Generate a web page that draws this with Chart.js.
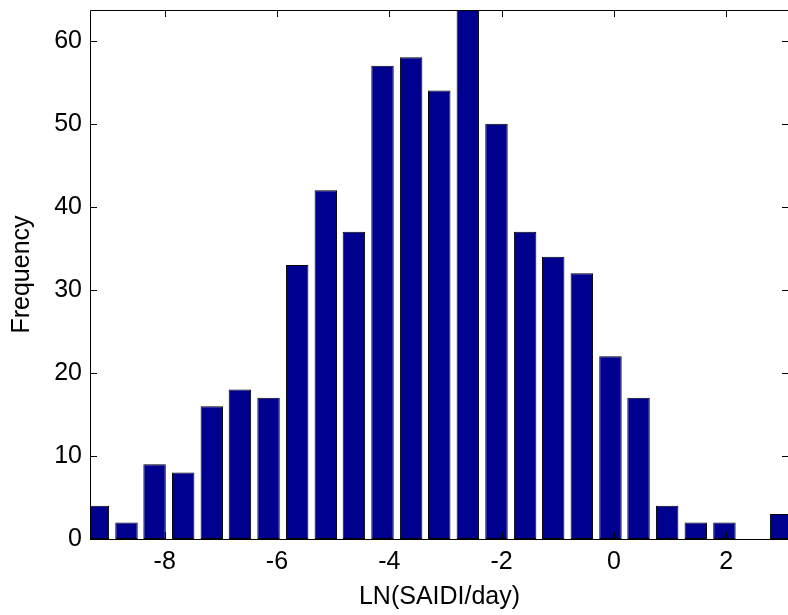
<!DOCTYPE html>
<html>
<head>
<meta charset="utf-8">
<script src="https://cdn.jsdelivr.net/npm/chart.js@4/dist/chart.umd.min.js"></script>
<style>
  html, body { margin: 0; padding: 0; background: #fff; overflow: hidden; }
  #wrap { width: 790px; height: 615px; }
</style>
</head>
<body>
<div id="wrap"><canvas id="histChart" width="790" height="615"></canvas></div>
<script>
// histogram bins (centres) and counts
var binCenters = [-9.19, -8.68, -8.18, -7.67, -7.16, -6.66, -6.15, -5.64, -5.13, -4.63,
                  -4.12, -3.61, -3.11, -2.60, -2.09, -1.58, -1.08, -0.57, -0.06, 0.44,
                  0.95, 1.46, 1.97, 2.47, 2.98];
var frequency = [4, 2, 9, 8, 16, 18, 17, 33, 42, 37,
                 57, 58, 54, 64, 50, 37, 34, 32, 22, 17,
                 4, 2, 2, 0, 3];
var xTicks = [-8, -6, -4, -2, 0, 2];
var yTicks = [0, 10, 20, 30, 40, 50, 60];

var fontFamily = '"Liberation Sans", Arial, Helvetica, sans-serif';

// matlab style box with inward ticks on all four sides
var axesBox = {
    id: 'axesBox',
    afterDatasetsDraw: function (chart) {
        var ctx = chart.ctx;
        var a = chart.chartArea;
        var xs = chart.scales.x, ys = chart.scales.y;
        var tl = 7;
        ctx.save();
        ctx.strokeStyle = '#000';
        ctx.lineWidth = 1;
        ctx.beginPath();
        ctx.rect(Math.round(a.left) + 0.5, Math.round(a.top) + 0.5,
                 Math.round(a.right - a.left), Math.round(a.bottom - a.top));
        xTicks.forEach(function (v) {
            var x = Math.round(xs.getPixelForValue(v)) + 0.5;
            ctx.moveTo(x, a.bottom); ctx.lineTo(x, a.bottom - tl);
            ctx.moveTo(x, a.top); ctx.lineTo(x, a.top + tl);
        });
        yTicks.forEach(function (v) {
            var y = Math.round(ys.getPixelForValue(v)) + 0.5;
            ctx.moveTo(a.left, y); ctx.lineTo(a.left + tl, y);
            ctx.moveTo(a.right, y); ctx.lineTo(a.right - tl, y);
        });
        ctx.stroke();
        ctx.restore();
    }
};

var ctx = document.getElementById('histChart').getContext('2d');
var histChart = new Chart(ctx, {
    type: 'bar',
    data: {
        datasets: [{
            data: binCenters.map(function (c, i) { return { x: c, y: frequency[i] }; }),
            backgroundColor: '#00008F',
            borderColor: '#000',
            borderWidth: 1,
            borderSkipped: false,
            categoryPercentage: 1,
            barPercentage: 0.8,
            clip: 0
        }]
    },
    options: {
        responsive: false,
        animation: false,
        devicePixelRatio: 1,
        layout: { padding: { top: 10, right: 1, left: 0, bottom: 0 } },
        plugins: {
            legend: { display: false },
            tooltip: { enabled: false }
        },
        scales: {
            x: {
                type: 'linear',
                min: -9.33,
                max: 3.12,
                offset: false,
                grid: { display: false, drawTicks: false },
                border: { display: false },
                afterBuildTicks: function (scale) {
                    scale.ticks = xTicks.map(function (v) { return { value: v }; });
                },
                afterFit: function (scale) {
                    scale.height = 76;
                    scale.paddingLeft = 0;
                    scale.paddingRight = 0;
                },
                ticks: {
                    color: '#000',
                    padding: 8,
                    maxRotation: 0,
                    font: { family: fontFamily, size: 25 }
                },
                title: {
                    display: true,
                    text: 'LN(SAIDI/day)',
                    color: '#000',
                    padding: { top: 0, bottom: 3 },
                    font: { family: fontFamily, size: 25 }
                }
            },
            y: {
                min: 0,
                max: 63.7,
                grid: { display: false, drawTicks: false },
                border: { display: false },
                afterBuildTicks: function (scale) {
                    scale.ticks = yTicks.map(function (v) { return { value: v }; });
                },
                afterFit: function (scale) {
                    scale.width = 90;
                    scale.paddingTop = 0;
                    scale.paddingBottom = 0;
                },
                ticks: {
                    color: '#000',
                    padding: 8,
                    font: { family: fontFamily, size: 25 }
                },
                title: {
                    display: true,
                    text: 'Frequency',
                    color: '#000',
                    padding: { top: 7, bottom: 0 },
                    font: { family: fontFamily, size: 25 }
                }
            }
        }
    },
    plugins: [axesBox]
});
</script>
</body>
</html>
